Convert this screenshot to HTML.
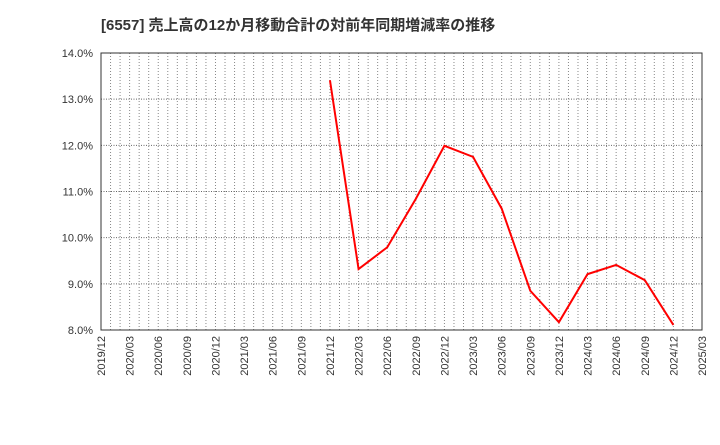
<!DOCTYPE html>
<html><head><meta charset="utf-8"><style>
body{margin:0;background:#fff;}
svg text{font-family:"Liberation Sans","Noto Sans CJK JP",sans-serif;}
</style></head><body>
<svg id="chart" width="720" height="440">
<text x="101" y="30" font-size="15" font-weight="bold" fill="#333">[6557]  売上高の12か月移動合計の対前年同期増減率の推移</text>
<g id="grid"></g><g id="axes"></g><g id="series"></g>
</svg>
<script>
const xLabels=["2019/12","2020/03","2020/06","2020/09","2020/12","2021/03","2021/06","2021/09","2021/12","2022/03","2022/06","2022/09","2022/12","2023/03","2023/06","2023/09","2023/12","2024/03","2024/06","2024/09","2024/12","2025/03"];
const yTicks=[8,9,10,11,12,13,14];
const seriesIdx=[8,9,10,11,12,13,14,15,16,17,18,19,20];
const seriesVals=[13.41,9.32,9.79,10.84,11.99,11.75,10.63,8.85,8.17,9.21,9.41,9.08,8.11];
const L=101,R=702,T=53,B=330,NS="http://www.w3.org/2000/svg";
const xq=i=>L+(R-L)*i/(xLabels.length-1);
const y=v=>B-(v-8)/(14-8)*(B-T);
function mk(t,a,p){const e=document.createElementNS(NS,t);for(const k in a)e.setAttribute(k,a[k]);p.appendChild(e);return e;}
const g=document.getElementById('grid'),ax=document.getElementById('axes'),s=document.getElementById('series');
for(let m=1;m<(xLabels.length-1)*3;m++){const x=L+(R-L)*m/((xLabels.length-1)*3);
const e=mk('line',{x1:x,x2:x,y1:T,y2:B,stroke:'#888','stroke-dasharray':'1,2','stroke-width':1},g);

}
yTicks.forEach(v=>{const e=mk('line',{x1:L,x2:R,y1:y(v),y2:y(v),stroke:'#666','stroke-dasharray':'1,1.5','stroke-width':1},g);


const t=mk('text',{x:L-8,y:y(v)+4,'text-anchor':'end','font-size':11,fill:'#333'},ax);t.textContent=v.toFixed(1)+'%';

});
const fr=mk('rect',{x:L,y:T,width:R-L,height:B-T,fill:'none',stroke:'#333','stroke-width':1},ax);


xLabels.forEach((l,i)=>{const x=xq(i);const t=mk('text',{x:x+4,y:B+6,'text-anchor':'end','font-size':11,fill:'#333',transform:`rotate(-90 ${x+4} ${B+6})`},ax);t.textContent=l;

});
const p=mk('polyline',{points:seriesIdx.map((i,k)=>xq(i)+','+y(seriesVals[k])).join(' '),fill:'none',stroke:'#f00','stroke-width':2},s);


</script>
</body></html>
